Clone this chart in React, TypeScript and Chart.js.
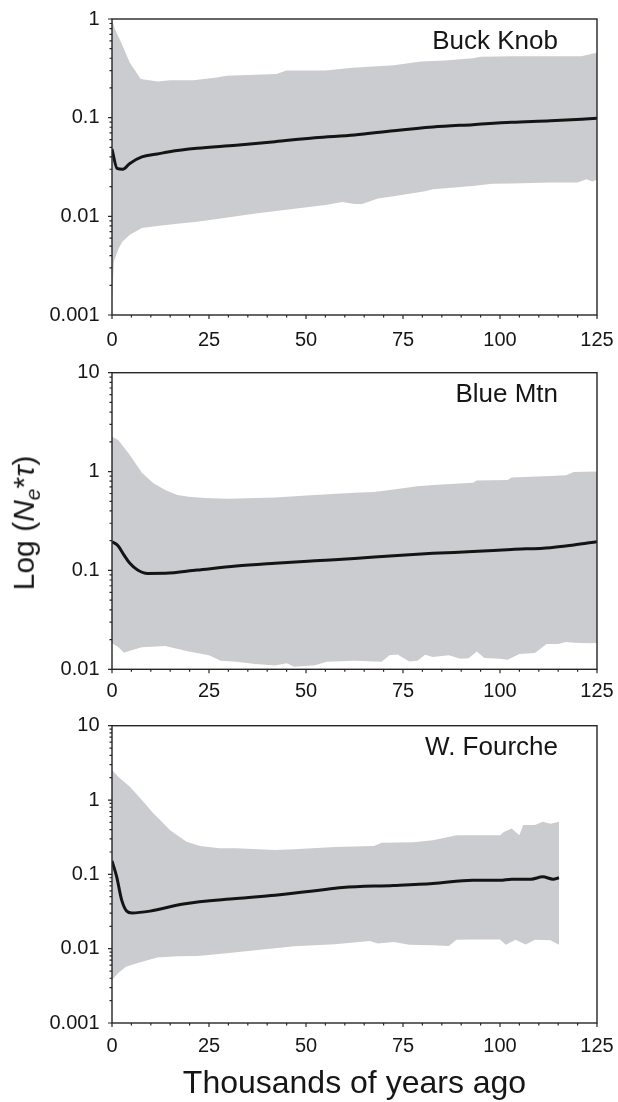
import React, { useEffect, useRef } from 'react';
import { Chart, registerables } from 'chart.js';

Chart.register(...registerables);

const FONT = '"Liberation Sans", Arial, Helvetica, sans-serif';

// ---- shared axis definitions ----
const xTickValues = [0, 25, 50, 75, 100, 125];
const panelNames = ['Buck Knob', 'Blue Mtn', 'W. Fourche'];
const xAxisTitle = 'Thousands of years ago';

// ---- Buck Knob ----
const bkYTicks = [0.001, 0.01, 0.1, 1];
const bkUpperYears = [0, 0.8, 2.1, 4.6, 7.4, 11.8, 15, 21, 27, 29.5, 42.4, 45, 55, 62, 72.6, 79.7, 85.8, 93, 95, 103, 113, 121, 124.3, 125];
const bkUpperVals = [0.98, 0.78, 0.61, 0.36, 0.246, 0.232, 0.24, 0.24, 0.256, 0.266, 0.277, 0.3, 0.3, 0.32, 0.34, 0.37, 0.38, 0.4, 0.415, 0.42, 0.42, 0.42, 0.45, 0.45];
const bkLowerYears = [0, 0.5, 1.6, 2.6, 4.6, 7.7, 11.7, 16.8, 21.9, 28, 37, 46, 55, 59.4, 62.5, 64.5, 68.5, 72.6, 80.7, 82.7, 93, 98, 103, 113, 120, 122.3, 123.8, 125];
const bkLowerVals = [0.0014, 0.0035, 0.0046, 0.0055, 0.0065, 0.0076, 0.008, 0.0084, 0.0088, 0.0095, 0.0107, 0.0118, 0.013, 0.014, 0.0133, 0.0133, 0.0152, 0.016, 0.018, 0.0188, 0.0203, 0.0214, 0.0215, 0.022, 0.022, 0.0237, 0.0225, 0.0235];
const bkMeanYears = [0, 1.3, 2.8, 4.6, 7.7, 11.7, 14.8, 21.9, 32, 42, 52.3, 62.5, 72.6, 82.7, 93, 103, 113, 125];
const bkMeanVals = [0.048, 0.0306, 0.03, 0.0344, 0.04, 0.0428, 0.0452, 0.0489, 0.0525, 0.0571, 0.0627, 0.0667, 0.0738, 0.0804, 0.085, 0.0897, 0.093, 0.0985];

// ---- Blue Mtn ----
const bmYTicks = [0.01, 0.1, 1, 10];
const bmUpperYears = [0, 1.6, 4.6, 7.7, 10.7, 13.7, 16.8, 19.8, 23.9, 30, 42, 52.3, 62.5, 67.5, 72.6, 78.7, 82.7, 93, 94, 102, 103, 113, 117, 119, 125];
const bmUpperVals = [2.25, 2.08, 1.47, 0.975, 0.76, 0.65, 0.58, 0.557, 0.54, 0.53, 0.548, 0.58, 0.61, 0.62, 0.66, 0.71, 0.73, 0.77, 0.81, 0.82, 0.87, 0.9, 0.92, 0.99, 1.0];
const bmLowerYears = [0, 1.6, 3.1, 4.6, 7.7, 13.7, 19.8, 25, 28, 32, 37, 42, 45, 47, 52.3, 55.4, 62.5, 69.5, 71.5, 73.6, 76.6, 78.7, 80.7, 82.7, 86.8, 89.8, 91.9, 94, 96, 100, 102, 105, 109, 112, 115, 117, 119, 123, 125];
const bmLowerVals = [0.0183, 0.0168, 0.0147, 0.0154, 0.0167, 0.0172, 0.0151, 0.0139, 0.0122, 0.0119, 0.0113, 0.0109, 0.0115, 0.0106, 0.011, 0.0119, 0.0122, 0.0119, 0.0139, 0.0141, 0.012, 0.0122, 0.014, 0.0133, 0.0139, 0.0128, 0.0129, 0.0151, 0.013, 0.0128, 0.0125, 0.0143, 0.0146, 0.018, 0.018, 0.0189, 0.0186, 0.0183, 0.0185];
const bmMeanYears = [0, 1.6, 3.1, 4.6, 6.6, 9.2, 13.7, 21.9, 32, 42, 52.3, 62.5, 72.6, 82.7, 93, 103, 113, 119, 125];
const bmMeanVals = [0.195, 0.177, 0.143, 0.118, 0.101, 0.0933, 0.0935, 0.1008, 0.1107, 0.118, 0.125, 0.132, 0.141, 0.149, 0.155, 0.163, 0.17, 0.181, 0.195];

// ---- W. Fourche ----
const wfYTicks = [0.001, 0.01, 0.1, 1, 10];
const wfUpperYears = [0, 1.6, 4.6, 7.7, 10.7, 12.4, 14.9, 19.2, 22.7, 27.8, 32, 42, 47, 57.4, 67.5, 69.5, 77.7, 82.7, 88.8, 95, 100, 101, 103, 105, 106, 109, 111, 113, 115.2];
const wfUpperVals = [2.53, 2.06, 1.51, 1.0, 0.66, 0.54, 0.394, 0.275, 0.24, 0.224, 0.224, 0.212, 0.218, 0.234, 0.24, 0.266, 0.27, 0.288, 0.337, 0.337, 0.337, 0.37, 0.414, 0.337, 0.46, 0.46, 0.51, 0.48, 0.51];
const wfLowerYears = [0, 1.6, 3.6, 6.6, 11.7, 16.8, 21.9, 27, 37, 47, 57.4, 66.5, 68.5, 72.6, 76.6, 82.7, 86.8, 88.8, 93, 100, 101.5, 104, 106.6, 109, 113, 115.2];
const wfLowerVals = [0.0038, 0.0047, 0.0057, 0.0064, 0.0076, 0.0079, 0.008, 0.0084, 0.0095, 0.0108, 0.0115, 0.0127, 0.0117, 0.0123, 0.0113, 0.0111, 0.0109, 0.0132, 0.0133, 0.0133, 0.0113, 0.0132, 0.0114, 0.0132, 0.013, 0.0113];
const wfMeanYears = [0, 1.2, 2.5, 3.8, 5.1, 9.8, 18.4, 32, 42, 52.3, 59.4, 72.6, 82.7, 93, 100, 103, 108, 111, 113.7, 115.2];
const wfMeanVals = [0.152, 0.093, 0.045, 0.032, 0.0303, 0.032, 0.04, 0.0473, 0.0524, 0.06, 0.0665, 0.0708, 0.0753, 0.0834, 0.083, 0.086, 0.086, 0.0925, 0.086, 0.09];

const toPoints = (xs: number[], ys: number[]) => xs.map((x, i) => ({ x, y: ys[i] }));

const framePlugin = {
  id: 'frame',
  afterDatasetsDraw(chart: any, _args: any, opts: any) {
    const { ctx, chartArea: ca, scales } = chart;
    const xs = scales.x;
    const ys = scales.y;
    ctx.save();
    ctx.strokeStyle = '#262626';
    ctx.lineWidth = 1.4;
    ctx.strokeRect(ca.left, ca.top, ca.right - ca.left, ca.bottom - ca.top);
    ctx.lineWidth = 1.2;
    ctx.beginPath();
    for (let v = xs.min; v <= xs.max; v += 5) {
      const px = xs.getPixelForValue(v);
      const len = v % 25 === 0 ? 4 : 2.5;
      ctx.moveTo(px, ca.bottom);
      ctx.lineTo(px, ca.bottom + len);
    }
    const yt: number[] = opts.yTicks;
    for (let i = 0; i < yt.length; i++) {
      const py = ys.getPixelForValue(yt[i]);
      ctx.moveTo(ca.left, py);
      ctx.lineTo(ca.left - 4, py);
      if (i < yt.length - 1) {
        for (let k = 2; k <= 9; k++) {
          const p2 = ys.getPixelForValue(yt[i] * k);
          ctx.moveTo(ca.left, p2);
          ctx.lineTo(ca.left - 2.5, p2);
        }
      }
    }
    ctx.stroke();
    ctx.fillStyle = '#161616';
    ctx.font = '26px ' + FONT;
    ctx.textAlign = 'right';
    ctx.textBaseline = 'alphabetic';
    ctx.fillText(opts.name, ca.right - 39, ca.top + 29.5);
    if (opts.xTitle) {
      ctx.font = '32px ' + FONT;
      ctx.textAlign = 'center';
      ctx.fillText(opts.xTitle, (ca.left + ca.right) / 2, ca.bottom + 70);
    }
    ctx.restore();
  },
};

type Pt = { x: number; y: number };
type PanelProps = {
  top: number;
  height: number;
  plotTop: number;
  plotBottom: number;
  labelOffset: number;
  name: string;
  yTicks: number[];
  upper: Pt[];
  lower: Pt[];
  mean: Pt[];
  xTitle?: string;
};

function Panel(p: PanelProps) {
  const ref = useRef<HTMLCanvasElement | null>(null);
  useEffect(() => {
    if (!ref.current) return;
    const chart = new Chart(ref.current, {
      type: 'line',
      data: {
        datasets: [
          { data: p.mean, borderColor: '#141414', borderWidth: 3, pointRadius: 0, fill: false, cubicInterpolationMode: 'monotone' },
          { data: p.upper, borderColor: 'rgba(0,0,0,0)', borderWidth: 1, backgroundColor: '#cbcccf', pointRadius: 0, fill: '+1', tension: 0 },
          { data: p.lower, borderColor: 'rgba(0,0,0,0)', borderWidth: 1, pointRadius: 0, fill: false, tension: 0 },
        ],
      },
      options: {
        responsive: false,
        animation: false,
        devicePixelRatio: 1,
        layout: { padding: { top: p.plotTop, right: 21, bottom: 0, left: 0 } },
        plugins: {
          legend: { display: false },
          tooltip: { enabled: false },
          frame: { yTicks: p.yTicks, name: p.name, xTitle: p.xTitle },
        } as any,
        scales: {
          x: {
            type: 'linear',
            min: 0,
            max: 125,
            grid: { display: false, drawTicks: true, tickLength: p.labelOffset },
            border: { display: false },
            afterBuildTicks: (s: any) => {
              s.ticks = xTickValues.map((v) => ({ value: v }));
            },
            afterFit: (s: any) => {
              s.height = p.height - p.plotBottom;
            },
            ticks: {
              padding: 0,
              color: '#161616',
              font: { family: FONT, size: 20 },
              maxRotation: 0,
              autoSkip: false,
              callback: (v: any) => String(v),
            },
          },
          y: {
            type: 'logarithmic',
            min: p.yTicks[0],
            max: p.yTicks[p.yTicks.length - 1],
            grid: { display: false, drawTicks: true, tickLength: 12.5 },
            border: { display: false },
            afterBuildTicks: (s: any) => {
              s.ticks = p.yTicks.map((v) => ({ value: v }));
            },
            afterFit: (s: any) => {
              s.width = 112;
            },
            ticks: {
              padding: 0,
              color: '#161616',
              font: { family: FONT, size: 20 },
              autoSkip: false,
              callback: (v: any) => String(v),
            },
          },
        },
      } as any,
      plugins: [framePlugin as any],
    });
    return () => chart.destroy();
  }, []);
  return (
    <canvas
      ref={ref}
      width={618}
      height={p.height}
      style={{ position: 'absolute', left: 0, top: p.top, width: 618, height: p.height }}
    />
  );
}

export default function App() {
  return (
    <div style={{ position: 'absolute', left: 0, top: 0, width: 618, height: 1102, background: '#fff', overflow: 'hidden' }}>
      <Panel
        top={0}
        height={360}
        plotTop={19}
        plotBottom={315}
        labelOffset={13.5}
        name={panelNames[0]}
        yTicks={bkYTicks}
        upper={toPoints(bkUpperYears, bkUpperVals)}
        lower={toPoints(bkLowerYears, bkLowerVals)}
        mean={toPoints(bkMeanYears, bkMeanVals)}
      />
      <Panel
        top={345}
        height={365}
        plotTop={27.7}
        plotBottom={324.3}
        labelOffset={9.9}
        name={panelNames[1]}
        yTicks={bmYTicks}
        upper={toPoints(bmUpperYears, bmUpperVals)}
        lower={toPoints(bmLowerYears, bmLowerVals)}
        mean={toPoints(bmMeanYears, bmMeanVals)}
      />
      <Panel
        top={700}
        height={402}
        plotTop={25.7}
        plotBottom={323}
        labelOffset={11.9}
        name={panelNames[2]}
        yTicks={wfYTicks}
        upper={toPoints(wfUpperYears, wfUpperVals)}
        lower={toPoints(wfLowerYears, wfLowerVals)}
        mean={toPoints(wfMeanYears, wfMeanVals)}
        xTitle={xAxisTitle}
      />
      <div
        style={{
          position: 'absolute',
          left: 25.5,
          top: 522.5,
          transform: 'translate(-50%, -50%) rotate(-90deg)',
          whiteSpace: 'nowrap',
          fontFamily: FONT,
          fontSize: 30,
          color: '#161616',
          lineHeight: 1,
        }}
      >
        Log (<i>N</i>
        <sub style={{ fontSize: 21, verticalAlign: '-0.3em' }}>
          <i>e</i>
        </sub>
        *<i>τ</i>)
      </div>
    </div>
  );
}
